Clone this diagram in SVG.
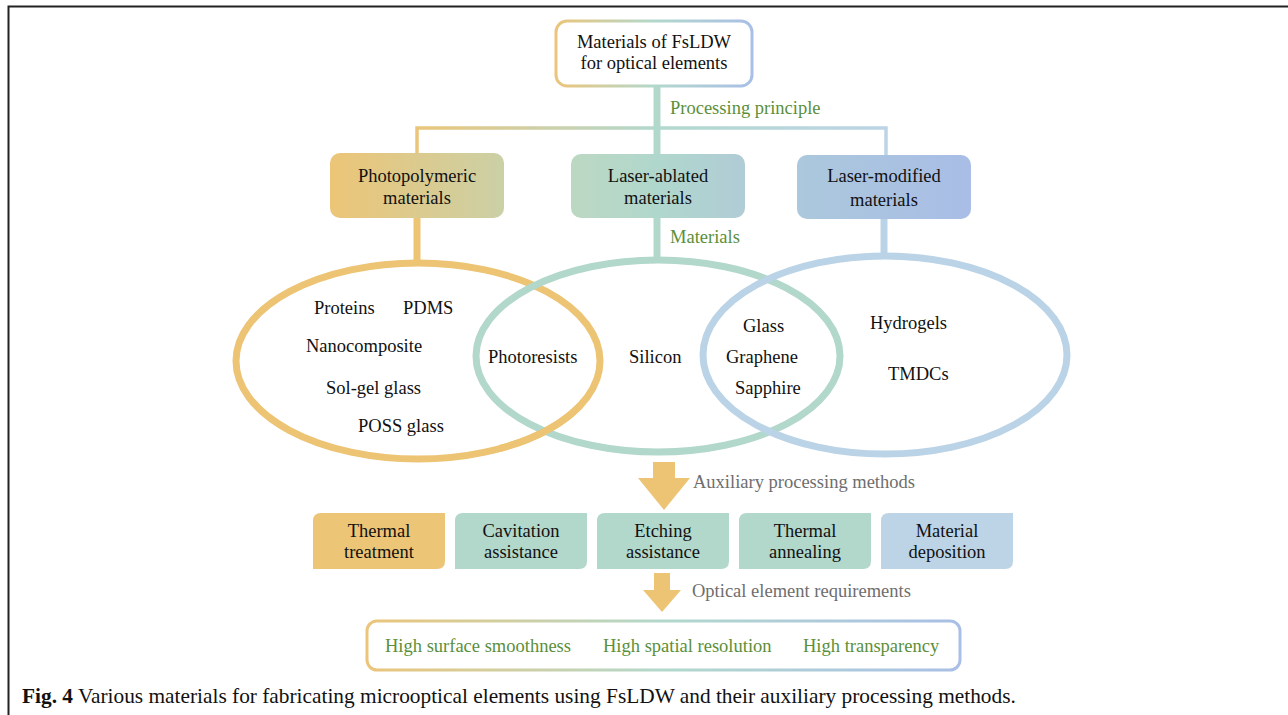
<svg xmlns="http://www.w3.org/2000/svg" width="1288" height="715" viewBox="0 0 1288 715">
<defs>
<linearGradient id="gStroke" x1="0" y1="0" x2="1" y2="0">
<stop offset="0" stop-color="#ebc57a"/>
<stop offset="0.5" stop-color="#b2d8cc"/>
<stop offset="1" stop-color="#a9bfe6"/>
</linearGradient>
<linearGradient id="gHline" gradientUnits="userSpaceOnUse" x1="417" y1="0" x2="886" y2="0">
<stop offset="0" stop-color="#ebc57a"/>
<stop offset="0.5" stop-color="#b2d8cc"/>
<stop offset="1" stop-color="#bcd4e6"/>
</linearGradient>
<linearGradient id="gPhoto" x1="0" y1="0" x2="1" y2="0">
<stop offset="0" stop-color="#ecc577"/>
<stop offset="1" stop-color="#cbd0a6"/>
</linearGradient>
<linearGradient id="gAbl" x1="0" y1="0" x2="1" y2="0">
<stop offset="0" stop-color="#bcd8c2"/>
<stop offset="0.5" stop-color="#b0d7cd"/>
<stop offset="1" stop-color="#b0ccd6"/>
</linearGradient>
<linearGradient id="gMod" x1="0" y1="0" x2="1" y2="0">
<stop offset="0" stop-color="#abc8dc"/>
<stop offset="1" stop-color="#a9bde6"/>
</linearGradient>
</defs>
<style>
text{font-family:"Liberation Serif","Times New Roman",serif;font-size:18.5px;fill:#111;}
.c{text-anchor:middle;}
.g{fill:#5b8f3a;}
.gr{fill:#6e6e6e;}
.ell{fill:none;stroke-width:7;}
</style>
<!-- frame -->
<path d="M8.5 715 V6.5 H1288" fill="none" stroke="#222" stroke-width="2"/>

<g id="connectors">
<line x1="657" y1="86" x2="657" y2="155" stroke="#b2d8cc" stroke-width="7"/>
<path d="M417 154 V128 H886 V155" fill="none" stroke="url(#gHline)" stroke-width="3.5"/>
<line x1="417" y1="217" x2="417" y2="263" stroke="#ecc474" stroke-width="7"/>
<line x1="657" y1="217" x2="657" y2="260" stroke="#b2d7cb" stroke-width="7"/>
<line x1="884" y1="218" x2="884" y2="257" stroke="#bad3e6" stroke-width="7"/>
<path d="M653 462 H675 V478 H690 L664 510 L638 478 H653 Z" fill="#ecc474"/>
<path d="M654 573 H670 V590 H681 L662 612 L643 590 H654 Z" fill="#ecc474"/>
</g>
<text x="670" y="114" class="g">Processing principle</text>
<text x="670" y="243" class="g">Materials</text>
<text x="693" y="488" class="gr">Auxiliary processing methods</text>
<text x="692" y="597" class="gr">Optical element requirements</text>

<g id="root">
<rect x="556" y="21" width="196" height="65" rx="11" fill="#fff" stroke="url(#gStroke)" stroke-width="3"/>
<text x="654" y="48" class="c">Materials of FsLDW</text>
<text x="654" y="69" class="c">for optical elements</text>
</g>

<g id="photopolymeric">
<rect x="330" y="153" width="174" height="65" rx="10" fill="url(#gPhoto)"/>
<text x="417" y="182" class="c">Photopolymeric</text>
<text x="417" y="204" class="c">materials</text>
</g>
<g id="ablated">
<rect x="571" y="154" width="174" height="64" rx="10" fill="url(#gAbl)"/>
<text x="658" y="182" class="c">Laser-ablated</text>
<text x="658" y="204" class="c">materials</text>
</g>
<g id="modified">
<rect x="797" y="155" width="174" height="64" rx="10" fill="url(#gMod)"/>
<text x="884" y="182" class="c">Laser-modified</text>
<text x="884" y="206" class="c">materials</text>
</g>

<g id="ellipses">
<ellipse cx="418" cy="361" rx="182" ry="98" class="ell" stroke="#ecc474"/>
<ellipse cx="658" cy="356" rx="182" ry="96" class="ell" stroke="#b2d7cb"/>
<path d="M580 405.6 A182 98 0 0 1 500 448.5" class="ell" stroke="#ecc474"/>
<ellipse cx="885" cy="355" rx="182" ry="99" class="ell" stroke="#bad3e6"/>
</g>
<g id="photo-materials">
<text x="314" y="314">Proteins</text>
<text x="403" y="314">PDMS</text>
<text x="306" y="352">Nanocomposite</text>
<text x="326" y="394">Sol-gel glass</text>
<text x="358" y="432">POSS glass</text>
</g>
<g id="shared-materials">
<text x="488" y="363">Photoresists</text>
<text x="629" y="363">Silicon</text>
<text x="743" y="332">Glass</text>
<text x="726" y="363">Graphene</text>
<text x="735" y="394">Sapphire</text>
</g>
<g id="mod-materials">
<text x="870" y="329">Hydrogels</text>
<text x="888" y="380">TMDCs</text>
</g>

<g id="thermal-treatment">
<path d="M313 521 Q313 513 321 513 H445 V561 Q445 569 437 569 H313 Z" fill="#ecc577"/>
<text x="379" y="537" class="c">Thermal</text>
<text x="379" y="558" class="c">treatment</text>
</g>
<g id="cavitation">
<path d="M455 521 Q455 513 463 513 H587 V561 Q587 569 579 569 H455 Z" fill="#b2d7cb"/>
<text x="521" y="537" class="c">Cavitation</text>
<text x="521" y="558" class="c">assistance</text>
</g>
<g id="etching">
<path d="M597 521 Q597 513 605 513 H729 V561 Q729 569 721 569 H597 Z" fill="#b2d7cb"/>
<text x="663" y="537" class="c">Etching</text>
<text x="663" y="558" class="c">assistance</text>
</g>
<g id="annealing">
<path d="M739 521 Q739 513 747 513 H871 V561 Q871 569 863 569 H739 Z" fill="#b2d7cb"/>
<text x="805" y="537" class="c">Thermal</text>
<text x="805" y="558" class="c">annealing</text>
</g>
<g id="deposition">
<path d="M881 521 Q881 513 889 513 H1013 V561 Q1013 569 1005 569 H881 Z" fill="#bcd4e6"/>
<text x="947" y="537" class="c">Material</text>
<text x="947" y="558" class="c">deposition</text>
</g>

<g id="requirements">
<rect x="367" y="621" width="593" height="49" rx="10" fill="#fff" stroke="url(#gStroke)" stroke-width="3"/>
<text x="385" y="652" class="g">High surface smoothness</text>
<text x="603" y="652" class="g">High spatial resolution</text>
<text x="803" y="652" class="g">High transparency</text>
</g>

<text x="22" y="703" style="font-size:21.35px"><tspan font-weight="bold">Fig. 4</tspan> Various materials for fabricating microoptical elements using FsLDW and their auxiliary processing methods.</text>
</svg>
